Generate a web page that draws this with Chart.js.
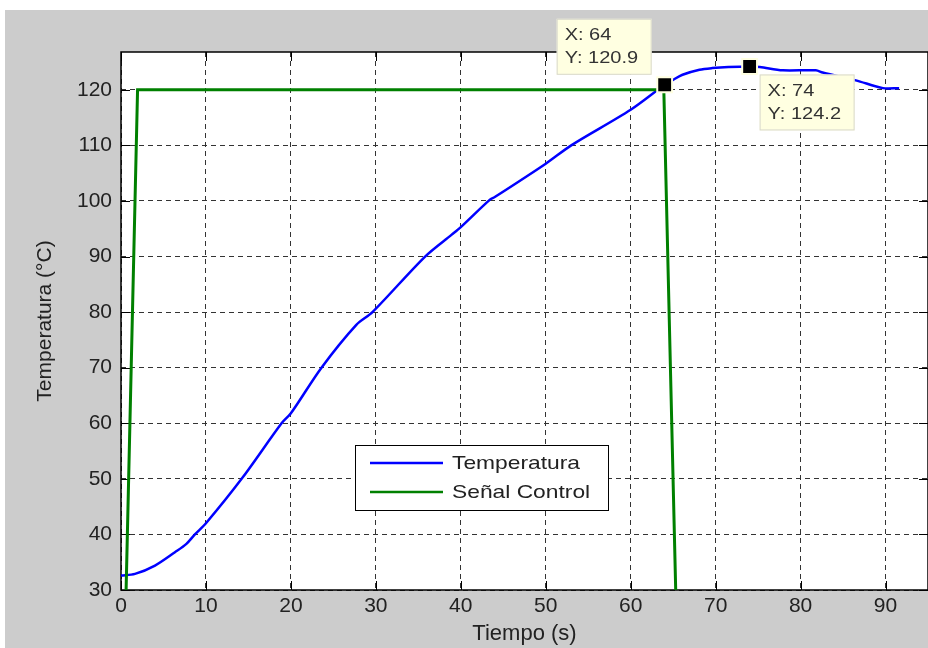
<!DOCTYPE html>
<html>
<head>
<meta charset="utf-8">
<script src="https://cdn.jsdelivr.net/npm/chart.js@4.4.1/dist/chart.umd.min.js"></script>
<style>
  html, body { margin: 0; padding: 0; background: #fff; overflow: hidden; }
  #wrap { position: absolute; left: 5px; top: 10px; width: 923px; height: 638px; background: #cccccc; }
</style>
</head>
<body>
<div id="wrap"><canvas id="plot"></canvas></div>
<script>
// temperature curve (s, °C)
const tiempo = [0, 1.65, 4, 6.35, 7.7, 8.7, 10, 14.2, 18.9, 20, 23.6, 27.7, 29.6, 35.8, 38.9, 40, 43.4, 44, 50, 53, 60, 64, 65, 66.1, 68.1, 69.6, 71.5, 74, 75.2, 77.9, 81.8, 82.6, 86.5, 89.7, 91.6];
const temperatura = [32.6, 32.9, 34.4, 36.8, 38.3, 40, 42, 50, 60, 61.8, 70, 77.7, 80, 90, 93.9, 95.3, 100.2, 100.7, 106.7, 110, 116.4, 120.9, 121.8, 122.7, 123.6, 123.9, 124.1, 124.2, 124.1, 123.5, 123.5, 123.1, 121.7, 120.3, 120.3];

// control signal
const tiempoControl = [0.6, 1.95, 63.9, 65.3];
const senalControl = [30, 120, 120, 30];

// data tips
const tipX = [64, 74];
const tipY = [120.9, 124.2];

const labels = ['Temperatura', 'Señal Control'];
const colors = ['#0000ff', '#008000'];

const FONT = "'Liberation Sans', Arial, sans-serif";

function stretchText(ctx, txt, x, y, sx) {
    ctx.save();
    ctx.translate(x, y);
    ctx.scale(sx, 1);
    ctx.fillText(txt, 0, 0);
    ctx.restore();
}

const axesBox = {
    id: 'axesBox',
    beforeDraw(c) {
        const { ctx, chartArea: a } = c;
        ctx.save();
        ctx.fillStyle = '#fff';
        ctx.fillRect(a.left, a.top, a.right - a.left, a.bottom - a.top);
        ctx.restore();
    },
    beforeDatasetsDraw(c) {
        const { ctx, chartArea: a, scales } = c;
        const len = 9;
        ctx.save();
        ctx.strokeStyle = '#000';
        ctx.lineWidth = 1;
        ctx.beginPath();
        scales.x.ticks.forEach(t => {
            const px = Math.round(scales.x.getPixelForValue(t.value)) + 0.5;
            ctx.moveTo(px, a.bottom); ctx.lineTo(px, a.bottom - len);
            ctx.moveTo(px, a.top); ctx.lineTo(px, a.top + len);
        });
        scales.y.ticks.forEach(t => {
            const py = Math.round(scales.y.getPixelForValue(t.value)) + 0.5;
            ctx.moveTo(a.left, py); ctx.lineTo(a.left + len, py);
            ctx.moveTo(a.right, py); ctx.lineTo(a.right - len, py);
        });
        ctx.stroke();
        ctx.lineWidth = 1.5;
        ctx.strokeRect(a.left, a.top, a.right - a.left, a.bottom - a.top);
        ctx.restore();
    },
    afterDraw(c) {
        const { ctx, chartArea: a, scales } = c;
        ctx.save();
        // legend
        const lx = a.left + 234, ly = a.top + 393, lw = 253, lh = 65;
        ctx.fillStyle = '#fff';
        ctx.fillRect(lx, ly, lw, lh);
        ctx.strokeStyle = '#000';
        ctx.lineWidth = 1;
        ctx.strokeRect(lx + 0.5, ly + 0.5, lw, lh);
        ctx.font = '19px ' + FONT;
        ctx.textBaseline = 'middle';
        labels.forEach((lab, i) => {
            const yy = ly + 18 + i * 29;
            ctx.strokeStyle = colors[i];
            ctx.lineWidth = 2.5;
            ctx.beginPath();
            ctx.moveTo(lx + 15, yy); ctx.lineTo(lx + 88, yy);
            ctx.stroke();
            ctx.fillStyle = '#222';
            stretchText(ctx, lab, lx + 97, yy + 1, 1.2);
        });
        // data tips
        ctx.font = '16px ' + FONT;
        tipX.forEach((xv, i) => {
            const px = scales.x.getPixelForValue(xv);
            const py = scales.y.getPixelForValue(tipY[i]);
            const w = 95, h = 56;
            const bx = i === 0 ? px - 13 - w : px + 10;
            const by = i === 0 ? py - 10 - h : py + 8;
            ctx.fillStyle = '#ffffe1';
            ctx.fillRect(bx, by, w, h);
            ctx.strokeStyle = '#d8d8cc';
            ctx.lineWidth = 1;
            ctx.strokeRect(bx + 0.5, by + 0.5, w - 1, h - 1);
            ctx.fillStyle = '#333';
            stretchText(ctx, 'X: ' + xv, bx + 8, by + 17, 1.25);
            stretchText(ctx, 'Y: ' + tipY[i].toFixed(1), bx + 8, by + 40, 1.25);
        });
        ctx.restore();
    }
};

const chart = new Chart(document.getElementById('plot'), {
    type: 'scatter',
    data: {
        datasets: [{
            label: 'tips',
            data: tipX.map((x, i) => ({ x: x, y: tipY[i] })),
            showLine: false,
            pointStyle: 'rect',
            pointRadius: 10.5,
            backgroundColor: '#000',
            borderColor: '#ffffe1',
            borderWidth: 2
        }, {
            label: labels[1],
            data: tiempoControl.map((x, i) => ({ x: x, y: senalControl[i] })),
            showLine: true,
            borderColor: colors[1],
            borderWidth: 3,
            pointRadius: 0,
            tension: 0
        }, {
            label: labels[0],
            data: tiempo.map((x, i) => ({ x: x, y: temperatura[i] })),
            showLine: true,
            borderColor: colors[0],
            borderWidth: 2.5,
            pointRadius: 0,
            tension: 0.3
        }]
    },
    options: {
        responsive: true,
        maintainAspectRatio: false,
        animation: false,
        layout: { autoPadding: false, padding: { top: 42, right: 0, left: 0, bottom: 0 } },
        scales: {
            x: {
                type: 'linear',
                min: 0,
                max: 95,
                afterFit: s => { s.height = 58; s.paddingLeft = 0; s.paddingRight = 0; },
                ticks: { stepSize: 10, includeBounds: false, padding: 4, color: '#222', font: { family: FONT, size: 21 } },
                grid: { color: '#333', lineWidth: 1, drawTicks: false },
                border: { display: false, dash: [5, 4] },
                title: { display: true, text: 'Tiempo (s)', color: '#222', font: { family: FONT, size: 22 }, padding: { top: 0, bottom: 1 } }
            },
            y: {
                min: 30,
                max: 126.8,
                afterFit: s => { s.width = 116; s.paddingTop = 0; s.paddingBottom = 0; },
                ticks: { stepSize: 10, includeBounds: false, padding: 9, color: '#222', font: { family: FONT, size: 21 } },
                grid: { color: '#333', lineWidth: 1, drawTicks: false },
                border: { display: false, dash: [5, 4] },
                title: { display: true, text: 'Temperatura (°C)', color: '#222', font: { family: FONT, size: 21 }, padding: { top: 28, bottom: 0 } }
            }
        },
        plugins: {
            legend: { display: false },
            tooltip: { enabled: false }
        }
    },
    plugins: [axesBox]
});
</script>
</body>
</html>
